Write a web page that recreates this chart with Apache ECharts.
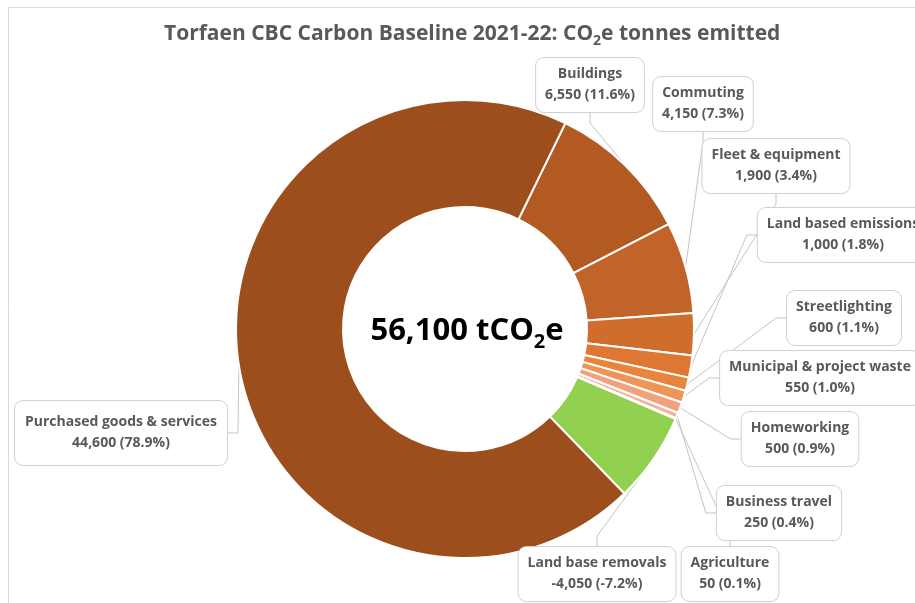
<!DOCTYPE html>
<html>
<head>
<meta charset="utf-8">
<script src="https://cdn.jsdelivr.net/npm/echarts@6/dist/echarts.min.js"></script>
<style>
html,body{margin:0;padding:0;background:#fff;}
#chart{width:915px;height:603px;}
</style>
</head>
<body>
<div id="chart"></div>
<script>
// ---- data ----
const categories = ['Buildings','Commuting','Fleet & equipment','Land based emissions','Streetlighting','Municipal & project waste','Homeworking','Business travel','Agriculture','Land base removals','Purchased goods & services'];
const values = [6550, 4150, 1900, 1000, 600, 550, 500, 250, 50, -4050, 44600];
const percentLabels = ['11.6%','7.3%','3.4%','1.8%','1.1%','1.0%','0.9%','0.4%','0.1%','-7.2%','78.9%'];
const centerTotal = '56,100';

// ---- styling / layout ----
const colors = ['#B25A22','#C2632A','#D06D2D','#DE7733','#E9843B','#EE9457','#F0A27F','#F3B296','#F6C3AC','#92D050','#9C4F1C'];
const labelPos = [[590,85],[703,104],[776,166],[843,235],[844,318],[820,378],[800,439],[779,513],[730,574],[597,574],[121,433]];
const FONT = 'Open Sans';

function fmt(v){ return v.toLocaleString('en-US'); }

const chart = echarts.init(document.getElementById('chart'), null, {renderer:'canvas'});
const pieData = values.map((v,i)=>{
  const d = {name:categories[i], value:Math.abs(v), itemStyle:{color:colors[i]}};
  if (i === values.length-1) d.label = {padding:[11,10,11,10]};
  return d;
});

chart.setOption({
  animation:false,
  backgroundColor:'#fff',
  title:{
    text:'{a|Torfaen CBC Carbon Baseline 2021-22: CO}{s|2}{a|e tonnes emitted}',
    left:159, top:14,
    textStyle:{
      rich:{
        a:{fontFamily:FONT,fontSize:21,fontWeight:'bold',color:'#595959',verticalAlign:'middle',lineHeight:30},
        s:{fontFamily:FONT,fontSize:14,fontWeight:'bold',color:'#595959',verticalAlign:'middle',lineHeight:16,padding:[14,0,0,0]}
      }
    }
  },
  graphic:[
    {type:'rect',shape:{x:8.5,y:7.5,width:1000,height:1000},style:{fill:'none',stroke:'#D9D9D9',lineWidth:1},silent:true},
    {type:'text',x:467,y:331,silent:true,
     style:{
       text:'{a|'+centerTotal+' tCO}{s|2}{a|e}',
       align:'center',verticalAlign:'middle',
       rich:{
         a:{fontFamily:FONT,fontSize:31,fontWeight:'bold',fill:'#000',verticalAlign:'middle',lineHeight:42},
         s:{fontFamily:FONT,fontSize:20,fontWeight:'bold',fill:'#000',verticalAlign:'middle',lineHeight:22,padding:[22,0,0,0]}
       }
     }}
  ],
  series:[{
    type:'pie',
    center:[465,329],
    radius:[122,229],
    startAngle:64,
    clockwise:true,
    avoidLabelOverlap:false,
    data:pieData,
    itemStyle:{borderColor:'#fff',borderWidth:2},
    label:{
      show:true,
      position:'outside',
      formatter:(p)=> categories[p.dataIndex]+'\n'+fmt(values[p.dataIndex])+' ('+percentLabels[p.dataIndex]+')',
      fontFamily:FONT,fontSize:14,fontWeight:'bold',color:'#595959',lineHeight:21,
      align:'center',
      backgroundColor:'#fff',borderColor:'#D0D0D0',borderWidth:1,borderRadius:8,
      padding:[6,9,6,9]
    },
    labelLine:{show:true,length:10,length2:10,lineStyle:{color:'#C4C4C4',width:1}},
    labelLayout:function(params){
      const p = labelPos[params.dataIndex];
      return {x:p[0], y:p[1], align:'center', verticalAlign:'middle'};
    },
    emphasis:{disabled:true}
  }]
});
</script>
</body>
</html>
